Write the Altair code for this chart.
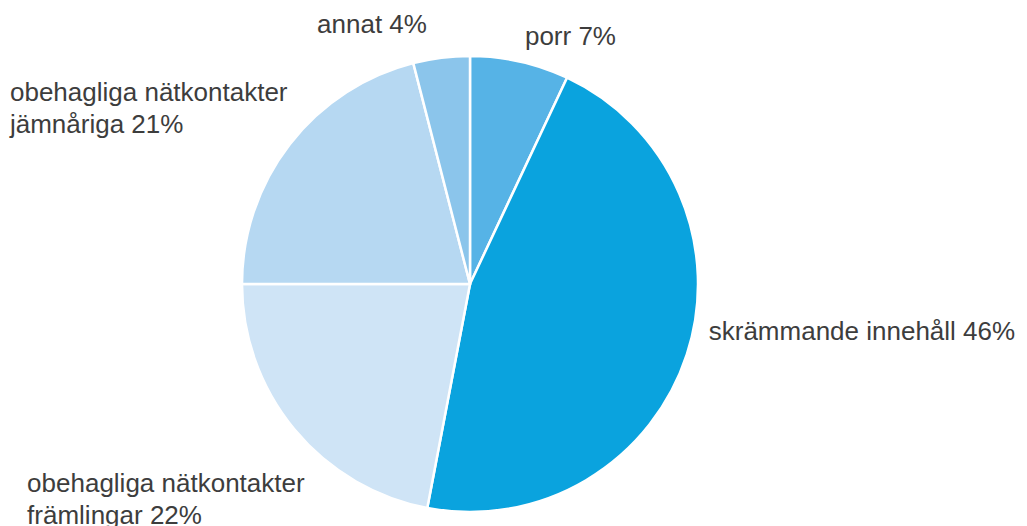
import altair as alt
import pandas as pd

categories = ["porr", "skrämmande innehåll", "obehagliga nätkontakter främlingar",
              "obehagliga nätkontakter jämnåriga", "annat"]
values = [7, 46, 22, 21, 4]
labels = ["porr 7%", "skrämmande innehåll 46%",
          "obehagliga nätkontakter\nfrämlingar 22%",
          "obehagliga nätkontakter\njämnåriga 21%", "annat 4%"]
colors = ["#56b3e6", "#0aa3de", "#cfe4f6", "#b6d8f2", "#8bc5eb"]

df = pd.DataFrame({"cat": categories, "value": values, "label": labels,
                   "idx": list(range(len(categories)))})

CX, CY = 462, 276
FONT = "Liberation Sans, Helvetica, Arial, sans-serif"

base = alt.Chart(df).encode(
    theta=alt.Theta("value:Q", stack=True),
    order=alt.Order("idx:Q"),
    x=alt.value(CX),
    y=alt.value(CY),
)

arc = base.mark_arc(outerRadius=228, stroke="white", strokeWidth=2.5).encode(
    color=alt.Color("cat:N", scale=alt.Scale(domain=categories, range=colors), legend=None)
)

# per-label placement offsets (style, relative to slice mid-angle at radius 240)
offsets = {
    0: (2.6, -4.8, "left"),
    1: (10.5, -18, "left"),
    2: (-258, 55, "left"),
    3: (-270.4, -36, "left"),
    4: (-13, -13, "right"),
}

layers = [arc]
for i, (dx, dy, align) in offsets.items():
    layers.append(
        base.transform_calculate(t=f"datum.idx == {i} ? datum.label : ''")
        .mark_text(radius=240, dx=dx, dy=dy, align=align, baseline="alphabetic",
                   fontSize=26, font=FONT, color="#3d3d3d",
                   lineBreak="\n", lineHeight=32)
        .encode(text="t:N")
    )

chart = alt.layer(*layers).properties(
    width=1011, height=518, autosize=alt.AutoSizeParams(type="none"), padding=0
).configure_view(stroke=None)

chart.save("out.html", embed_options={"renderer": "svg", "actions": False})
